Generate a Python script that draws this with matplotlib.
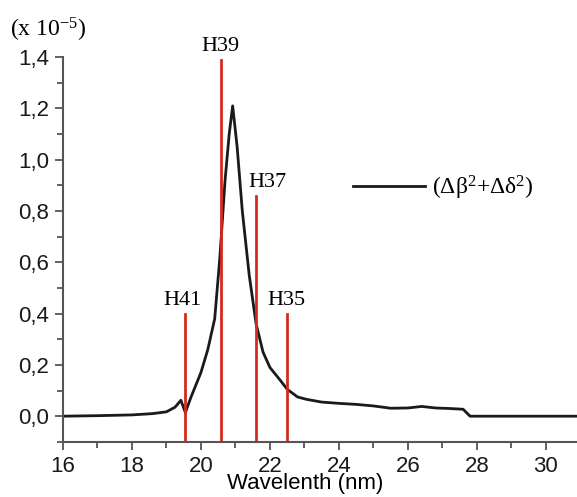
import matplotlib.pyplot as plt
from matplotlib.ticker import MultipleLocator

# curve (x 1e-5)
wl = [16.0, 17.0, 18.0, 18.6, 19.0, 19.25, 19.42, 19.55, 19.7, 19.85, 20.0, 20.2, 20.4,
      20.55, 20.7, 20.82, 20.92, 21.05, 21.2, 21.4, 21.6, 21.8, 22.0, 22.3, 22.5,
      22.8, 23.05, 23.5, 24.0, 24.5, 25.0, 25.5, 26.0, 26.4, 26.8, 27.2, 27.6, 27.8, 31.0]
val = [0.0, 0.002, 0.005, 0.01, 0.017, 0.035, 0.062, 0.014, 0.07, 0.12, 0.17, 0.26, 0.38,
       0.62, 0.92, 1.1, 1.21, 1.05, 0.8, 0.55, 0.36, 0.25, 0.19, 0.14, 0.105,
       0.075, 0.066, 0.055, 0.05, 0.046, 0.04, 0.031, 0.032, 0.038, 0.032, 0.03, 0.027, 0.0, 0.0]

# harmonic markers
h_pos = [19.54, 20.57, 21.61, 22.50]
h_height = [0.40, 1.39, 0.86, 0.40]
h_names = ['H41', 'H39', 'H37', 'H35']
h_label_x = [19.48, 20.57, 21.93, 22.47]

plt.rcParams['mathtext.fontset'] = 'custom'
plt.rcParams['mathtext.rm'] = 'Liberation Serif'
axis_col = '#555555'
serif = 'Liberation Serif'
sans = 'Liberation Sans'

fig = plt.figure(figsize=(5.77, 4.97), dpi=100)
ax = fig.add_axes([0.109, 0.111, 0.891, 0.774])

ax.plot(wl, val, color='#1a1a1a', lw=2, label=r'(Δβ$\mathrm{^2}$+Δδ$\mathrm{^2}$)')
for x, h, lx, name in zip(h_pos, h_height, h_label_x, h_names):
    ax.plot([x, x], [-0.1, h], color='#d42a1e', lw=2)
    ax.text(lx, h + 0.015, name, ha='center', va='bottom', family=serif, fontsize=16)

ax.set_xlim(16, 30.9)
ax.set_ylim(-0.1, 1.4)
ax.xaxis.set_major_locator(MultipleLocator(2))
ax.xaxis.set_minor_locator(MultipleLocator(1))
ax.yaxis.set_minor_locator(MultipleLocator(0.1))
yt = [0.0, 0.2, 0.4, 0.6, 0.8, 1.0, 1.2, 1.4]
ax.set_yticks(yt)
ax.set_yticklabels([f'{t:.1f}'.replace('.', ',') for t in yt])

for s in ['top', 'right']:
    ax.spines[s].set_visible(False)
for s in ['left', 'bottom']:
    ax.spines[s].set_color(axis_col)
    ax.spines[s].set_linewidth(1.5)
ax.tick_params(which='major', direction='out', length=6, width=1.3, color=axis_col,
               labelsize=16, labelfontfamily=sans, labelcolor='#1a1a1a', pad=4)
ax.tick_params(which='minor', direction='out', length=4, width=1.3, color=axis_col)

fig.text(305 / 577, 1 - 484 / 497, 'Wavelenth (nm)', family=sans, fontsize=16,
         ha='center', va='center')
fig.text(0.017, 1 - 30 / 497, r'(x 10$\mathrm{^{-5}}$)', family=serif, fontsize=17, va='center')

ax.legend(loc='center left', bbox_to_anchor=(0.564, 0.66), frameon=False,
          borderaxespad=0, borderpad=0, handlelength=3.05, handletextpad=0.3,
          prop={'family': serif, 'size': 17})

fig.savefig('out.png', dpi=100)
